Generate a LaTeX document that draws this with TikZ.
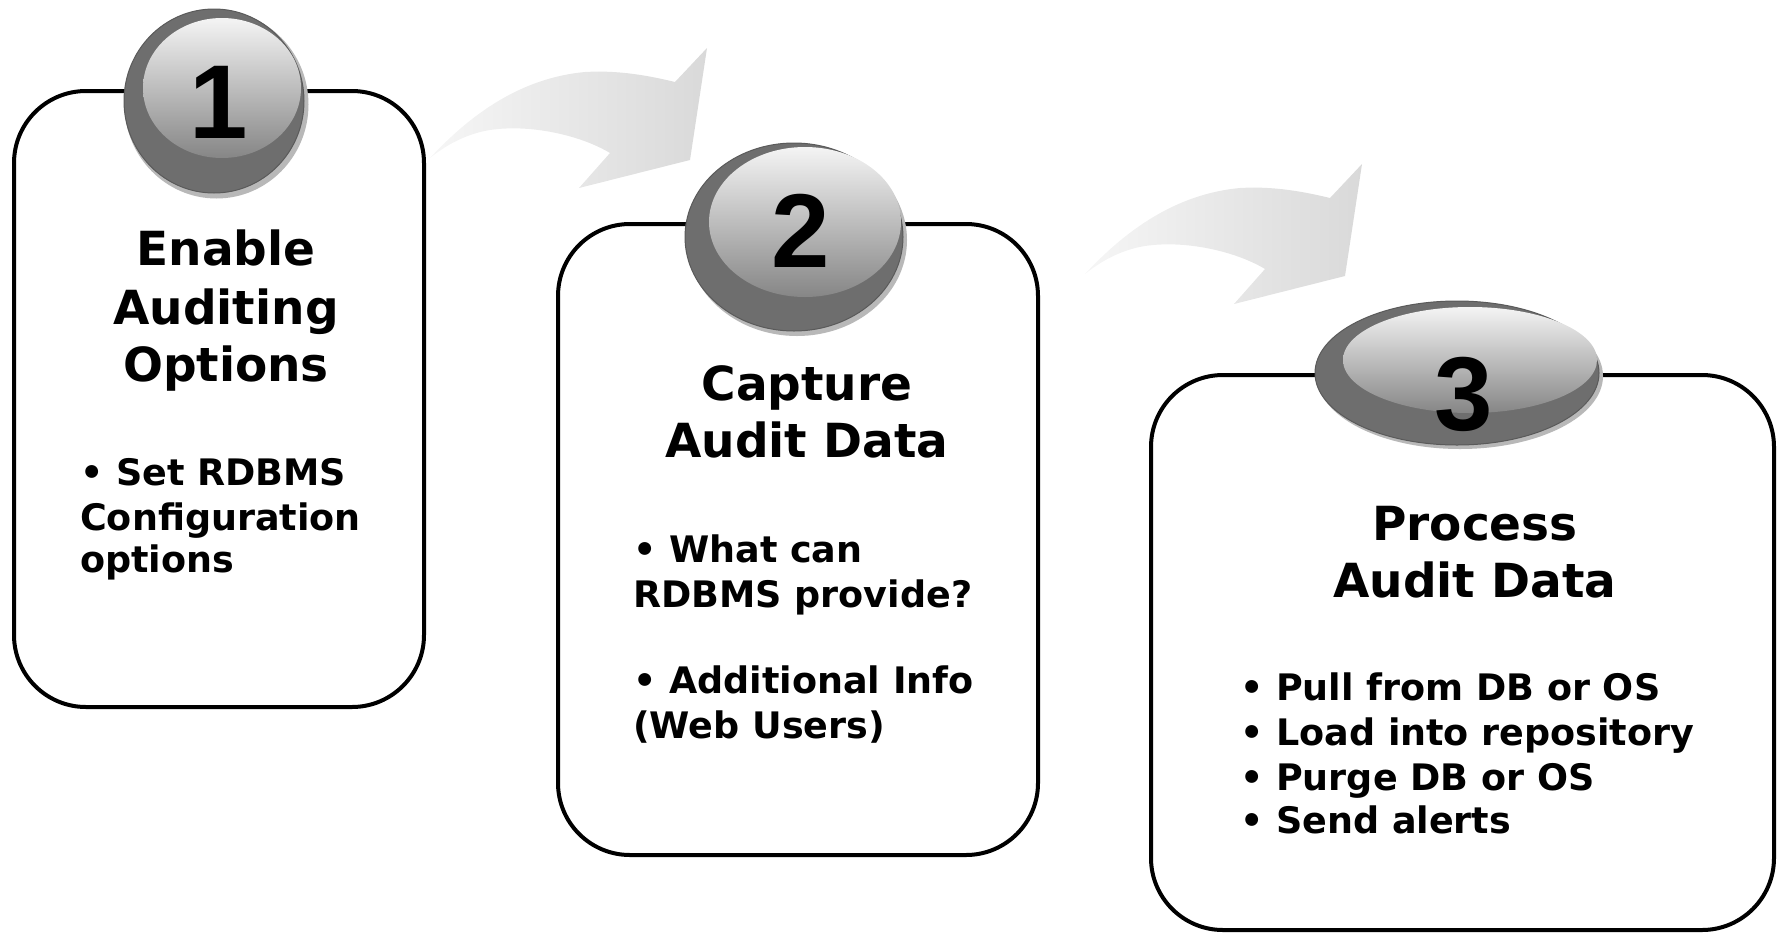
\documentclass[tikz,border=0pt]{standalone}
\usepackage{fontspec}
\setmainfont{DejaVu Sans}
\newfontfamily\digitfont{Liberation Sans}
\definecolor{ringgray}{HTML}{6E6E6E}
\definecolor{ringedge}{HTML}{5A5A5A}
\definecolor{rimgray}{HTML}{B8B8B8}
\definecolor{discTop}{HTML}{F4F4F4}
\definecolor{discBot}{HTML}{868686}
\definecolor{arrowL}{HTML}{F6F6F6}
\definecolor{arrowR}{HTML}{D9D9D9}
\tikzset{
  stepbox/.style={draw=black, line width=4pt, fill=white, rounded corners=72pt, inner sep=0pt, outer sep=0pt},
  titletext/.style={anchor=base, inner sep=0pt, font=\bfseries\fontsize{47}{58}\selectfont},
  bullettext/.style={anchor=base west, inner sep=0pt, font=\bfseries\fontsize{36.5}{45}\selectfont},
  digittext/.style={anchor=base, inner sep=0pt, font=\digitfont\bfseries\fontsize{105}{105}\selectfont},
  ring/.style={fill=ringgray, draw=ringedge, line width=1pt},
  rim/.style={fill=rimgray},
  disc/.style={top color=discTop, bottom color=discBot},
  flowarrow/.style={left color=arrowL, right color=arrowR}
}
\newcommand\flowarrowpath{(430,158) .. controls (470,115) and (520,78) .. (585,72)
  .. controls (620,70) and (650,76) .. (675,82) -- (707,48) -- (690,160) -- (579,188)
  -- (610,153) .. controls (580,135) and (530,124) .. (490,130)
  .. controls (465,134) and (445,146) .. (430,158) -- cycle}
\begin{document}
\begin{tikzpicture}[x=1pt,y=-1pt]
\useasboundingbox (0,0) rectangle (1783,932);

% curved arrows
\shade[flowarrow] \flowarrowpath;
\begin{scope}[shift={(655,116)}]
\shade[flowarrow] \flowarrowpath;
\end{scope}

% boxes
\node[stepbox, minimum width=410pt, minimum height=616pt] (box1) at (219,399) {};
\node[stepbox, minimum width=480pt, minimum height=631pt] (box2) at (798,539.5) {};
\node[stepbox, minimum width=623pt, minimum height=555pt] (box3) at (1462.5,652.5) {};

% badge 1
\fill[rim] (216.5,104.5) ellipse [x radius=92, y radius=94];
\filldraw[ring] (214,101) ellipse [x radius=90, y radius=92];
\shade[disc] (222,88) ellipse [x radius=79, y radius=70];
\node[digittext] (d1) at (219,138) {1};

% badge 2
\fill[rim] (797,240) ellipse [x radius=110, y radius=96];
\filldraw[ring] (794,237) ellipse [x radius=109, y radius=94];
\shade[disc] (805,222) ellipse [x radius=96, y radius=75];
\node[digittext] (d2) at (801,267) {2};

% badge 3
\fill[rim] (1460,376) ellipse [x radius=143, y radius=73];
\filldraw[ring] (1457,373) ellipse [x radius=142, y radius=72];
\shade[disc] (1470,360) ellipse [x radius=127, y radius=53];
\node[digittext] (d3) at (1464,430) {3};

% box 1 text
\node[titletext] (t1a) at (226,265) {Enable};
\node[titletext] (t1b) at (226,324) {Auditing};
\node[titletext] (t1c) at (226,381) {Options};
\node[bullettext] (b1a) at (80,485) {• Set RDBMS};
\node[bullettext] (b1b) at (80,530) {Configuration};
\node[bullettext] (b1c) at (80,572) {options};

% box 2 text
\node[titletext] (t2a) at (807,400) {Capture};
\node[titletext] (t2b) at (807,457) {Audit Data};
\node[bullettext] (b2a) at (633,562) {• What can};
\node[bullettext] (b2b) at (633,607) {RDBMS provide?};
\node[bullettext] (b2c) at (633,693) {• Additional Info};
\node[bullettext] (b2d) at (633,738) {(Web Users)};

% box 3 text
\node[titletext] (t3a) at (1475,540) {Process};
\node[titletext] (t3b) at (1475,597) {Audit Data};
\node[bullettext] (b3a) at (1240,700) {• Pull from DB or OS};
\node[bullettext] (b3b) at (1240,745) {• Load into repository};
\node[bullettext] (b3c) at (1240,790) {• Purge DB or OS};
\node[bullettext] (b3d) at (1240,833) {• Send alerts};
\end{tikzpicture}
\end{document}
